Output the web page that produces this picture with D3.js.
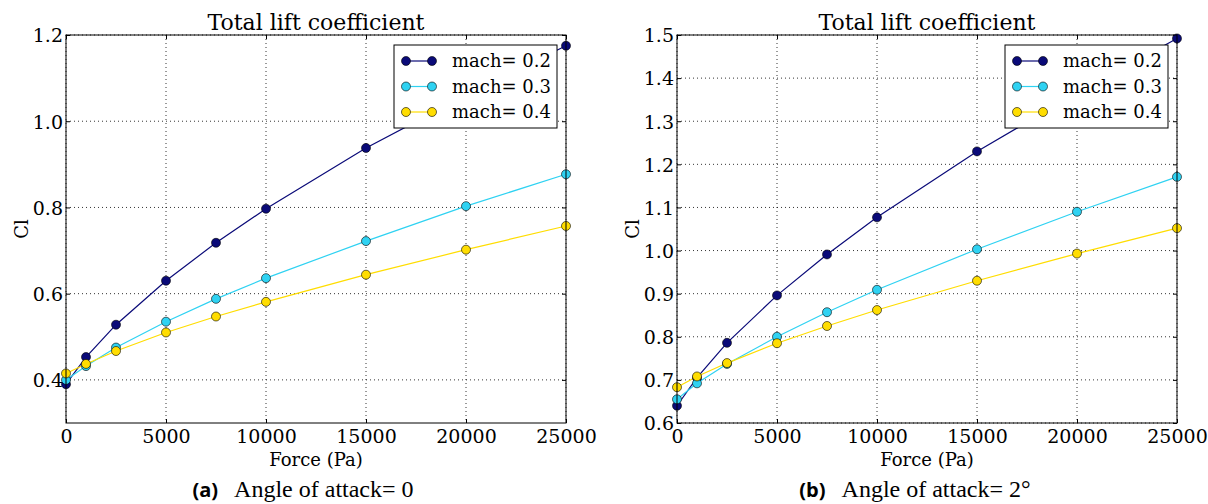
<!DOCTYPE html>
<html>
<head>
<meta charset="utf-8">
<script src="https://cdn.jsdelivr.net/npm/d3@7"></script>
<style>
body { margin: 0; background: #fff; }
svg { display: block; }
</style>
</head>
<body>
<svg width="1208" height="504"></svg>
<script>
// x values (Pa)
let force = [0, 1000, 2500, 5000, 7500, 10000, 15000, 20000, 25000]
let machNames = ["mach= 0.2", "mach= 0.3", "mach= 0.4"]
let machColors = ["#0a0a78", "#2fd2f2", "#ffdd00"]

// (a) angle of attack 0
let clA02 = [0.390, 0.453, 0.528, 0.630, 0.718, 0.797, 0.938, 1.060, 1.175]
let clA03 = [0.400, 0.432, 0.475, 0.535, 0.588, 0.636, 0.722, 0.803, 0.877]
let clA04 = [0.415, 0.437, 0.467, 0.510, 0.547, 0.581, 0.644, 0.702, 0.757]
let yTicksA = [0.4, 0.6, 0.8, 1.0, 1.2]

// (b) angle of attack 2
let clB02 = [0.640, 0.705, 0.786, 0.896, 0.991, 1.077, 1.230, 1.365, 1.492]
let clB03 = [0.655, 0.692, 0.737, 0.800, 0.857, 0.909, 1.003, 1.090, 1.171]
let clB04 = [0.683, 0.708, 0.739, 0.785, 0.825, 0.862, 0.930, 0.993, 1.052]
let yTicksB = [0.6, 0.7, 0.8, 0.9, 1.0, 1.1, 1.2, 1.3, 1.4, 1.5]

let xTicks = [0, 5000, 10000, 15000, 20000, 25000]

let svg = d3.select("svg")
let serif = "'DejaVu Serif'"

function drawPanel(left, series, yDomain, yTicks, caption, captionX, captionSuffix) {
    let top = 35, bottom = 423, right = left + 500
    let x = d3.scaleLinear().domain([0, 25000]).range([left, right])
    let y = d3.scaleLinear().domain(yDomain).range([bottom, top])
    let g = svg.append("g")

    // grid
    g.selectAll(".gx").data(xTicks).enter().append("line")
        .attr("x1", d => x(d)).attr("x2", d => x(d))
        .attr("y1", top).attr("y2", bottom)
        .attr("stroke", "#000").attr("stroke-width", 0.8)
        .attr("stroke-dasharray", "1,3")
    g.selectAll(".gy").data(yTicks).enter().append("line")
        .attr("x1", left).attr("x2", right)
        .attr("y1", d => y(d)).attr("y2", d => y(d))
        .attr("stroke", "#000").attr("stroke-width", 0.8)
        .attr("stroke-dasharray", "1,3")

    // axes (ticks inside, like matplotlib classic)
    let ax = g.append("g").attr("transform", `translate(0,${bottom})`)
        .call(d3.axisBottom(x).tickValues(xTicks).tickSize(-4).tickPadding(7).tickFormat(d3.format("d")))
    let axTop = g.append("g").attr("transform", `translate(0,${top})`)
        .call(d3.axisTop(x).tickValues(xTicks).tickSize(-4).tickFormat(""))
    let ay = g.append("g").attr("transform", `translate(${left},0)`)
        .call(d3.axisLeft(y).tickValues(yTicks).tickSize(-4).tickPadding(3).tickFormat(d3.format(".1f")))
    let ayR = g.append("g").attr("transform", `translate(${right},0)`)
        .call(d3.axisRight(y).tickValues(yTicks).tickSize(-4).tickFormat(""))
    for (let a of [ax, axTop, ay, ayR]) {
        a.select(".domain").remove()
        a.selectAll("text").style("font-family", serif).style("font-size", "19px").attr("fill", "#000")
    }
    ay.selectAll("text").attr("dy", "0.36em")

    // lines and markers
    let line = d3.line().x((d, i) => x(force[i])).y(d => y(d))
    series.forEach((s, k) => {
        g.append("path").attr("d", line(s))
            .attr("fill", "none").attr("stroke", machColors[k]).attr("stroke-width", 1.2)
    })
    series.forEach((s, k) => {
        g.selectAll(".m" + k).data(s).enter().append("circle")
            .attr("cx", (d, i) => x(force[i])).attr("cy", d => y(d)).attr("r", 4.5)
            .attr("fill", machColors[k]).attr("stroke", "#000").attr("stroke-width", 0.6)
    })

    // frame
    g.append("rect").attr("x", left).attr("y", top)
        .attr("width", right - left).attr("height", bottom - top)
        .attr("fill", "none").attr("stroke", "#000").attr("stroke-width", 1)

    // title and labels
    g.append("text").attr("x", (left + right) / 2).attr("y", 30)
        .attr("text-anchor", "middle").style("font-family", serif).style("font-size", "22px")
        .text("Total lift coefficient")
    g.append("text").attr("x", (left + right) / 2).attr("y", 466)
        .attr("text-anchor", "middle").style("font-family", serif).style("font-size", "18px")
        .text("Force (Pa)")
    g.append("text").attr("transform", `translate(${left - 38},${(top + bottom) / 2}) rotate(-90)`)
        .attr("text-anchor", "middle").style("font-family", serif).style("font-size", "18px")
        .text("Cl")

    // legend
    let lx = right - 172, ly = 45
    let leg = g.append("g")
    leg.append("rect").attr("x", lx).attr("y", ly).attr("width", 163).attr("height", 83)
        .attr("fill", "#fff").attr("stroke", "#000").attr("stroke-width", 1)
    machNames.forEach((n, k) => {
        let yy = ly + 16 + k * 25.5
        leg.append("line").attr("x1", lx + 12).attr("x2", lx + 38).attr("y1", yy).attr("y2", yy)
            .attr("stroke", machColors[k]).attr("stroke-width", 1.2)
        for (let cx of [lx + 12, lx + 38]) {
            leg.append("circle").attr("cx", cx).attr("cy", yy).attr("r", 4.5)
                .attr("fill", machColors[k]).attr("stroke", "#000").attr("stroke-width", 0.6)
        }
        leg.append("text").attr("x", lx + 58).attr("y", yy).attr("dy", "0.35em")
            .style("font-family", serif).style("font-size", "18px").text(n)
    })

    // caption
    let cap = g.append("text").attr("x", captionX).attr("y", 497).attr("text-anchor", "middle")
    cap.append("tspan").style("font-family", "'Open Sans'").attr("font-weight", "bold")
        .style("font-size", "20px").text(caption)
    cap.append("tspan").style("font-family", "'Liberation Serif'").style("font-size", "24px")
        .attr("dx", 16).text(captionSuffix)
}

drawPanel(66, [clA02, clA03, clA04], [0.3, 1.2], yTicksA, "(a)", 303, "Angle of attack= 0")
drawPanel(677, [clB02, clB03, clB04], [0.6, 1.5], yTicksB, "(b)", 915, "Angle of attack= 2°")
</script>
</body>
</html>
